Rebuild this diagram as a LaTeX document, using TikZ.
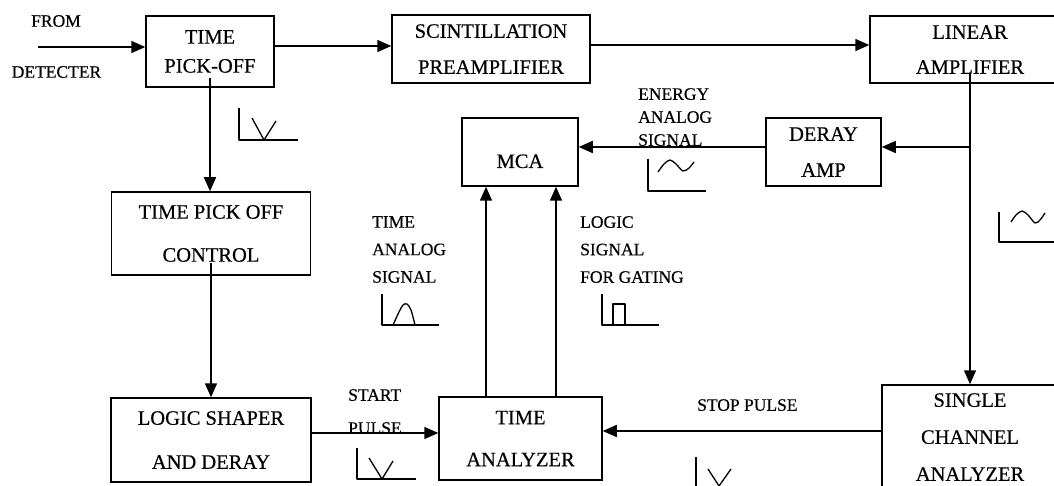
\documentclass[tikz,border=0pt]{standalone}
\usepackage{fontspec}
\setmainfont{Liberation Serif}[FakeBold=0.4]
\usetikzlibrary{arrows.meta,calc}
\tikzset{
  box/.style={draw, line width=1.5pt, inner sep=0pt, align=center, font=\fontsize{20.5}{24}\selectfont},
  lbl/.style={inner sep=0pt, align=left, font=\fontsize{17.5}{21}\selectfont},
  conn/.style={line width=1.5pt},
  arr/.style={conn, -{Triangle[length=14pt,width=12pt]}},
  sig/.style={line width=1.3pt, line join=round},
}
\begin{document}
\begin{tikzpicture}[x=1pt,y=-1pt]
\useasboundingbox (0,0) rectangle (1054,486);
\clip (0,0) rectangle (1054,486);
\fill[white] (0,0) rectangle (1054,486);
% boxes
\node[box, minimum width=128, minimum height=71] (tpo) at (210,51.5) {TIME\\[5pt]PICK-OFF};
\node[box, minimum width=198, minimum height=68] (scint) at (491,49) {SCINTILLATION\\[12pt]PREAMPLIFIER};
\node[box, minimum width=200, minimum height=67] (lin) at (970,49.5) {LINEAR\\[11pt]AMPLIFIER};
\node[box, minimum width=115, minimum height=68] (deray) at (823.5,152) {DERAY\\[12pt]AMP};
\node[box, minimum width=116, minimum height=68, text height=32pt, text depth=0pt] (mca) at (520,152) {MCA};
\node[box, minimum width=199, minimum height=83] (tpoc) at (211,233.5) {TIME PICK OFF\\[19pt]CONTROL};
\node[box, minimum width=200, minimum height=84] (lsd) at (211,440) {LOGIC SHAPER\\[20pt]AND DERAY};
\node[box, minimum width=163, minimum height=83] (ta) at (520.5,438.5) {TIME\\[18pt]ANALYZER};
\node[box, minimum width=176, minimum height=104] (sca) at (970,437) {SINGLE\\[13pt]CHANNEL\\[13pt]ANALYZER};
% labels
\node[lbl] (from) at (56,21) {FROM};
\node[lbl] (detr) at (56.5,72) {DETECTER};
\node[lbl, anchor=north west] (energy) at (638,88) {ENERGY\\[2pt]ANALOG\\[2pt]SIGNAL};
\node[lbl, anchor=north west] (tasig) at (372,216) {TIME\\[6.5pt]ANALOG\\[6.5pt]SIGNAL};
\node[lbl, anchor=north west] (lsig) at (580,216) {LOGIC\\[6.5pt]SIGNAL\\[6.5pt]FOR GATING};
\node[lbl, anchor=north west] (start) at (348,389) {START\\[12pt]PULSE};
\node[lbl, anchor=north west] (stop) at (697,399) {STOP PULSE};
% connectors
\coordinate (det) at (38,47);
\coordinate (br) at (970,147);
\draw[arr] (det) -- (det -| tpo.west);
\draw[arr] (tpo.east |- 0,46) -- (scint.west |- 0,46);
\draw[arr] (scint.east |- 0,45) -- (lin.west |- 0,45);
\draw[arr] ($(lin.south)+(0,-11)$) -- (sca.north);
\draw[arr] (br) -- (br -| deray.east);
\draw[arr] (deray.west |- 0,147) -- (mca.east |- 0,147);
\draw[arr] ($(tpo.south)+(0,-10)$) -- (tpo.south |- tpoc.north);
\draw[arr] ($(tpoc.south)+(0,-13)$) -- (tpoc.south |- lsd.north);
\draw[arr] (lsd.east |- 0,433) -- (ta.west |- 0,433);
\draw[arr] (sca.west |- 0,431) -- (ta.east |- 0,431);
\draw[arr] (ta.north -| 486,0) -- (mca.south -| 486,0);
\draw[arr] (ta.north -| 556,0) -- (mca.south -| 556,0);
% signal sketches
\draw[sig] (239,108) -- (239,140) -- (298,140);
\draw[sig] (252,118) -- (264,140) -- (276,121);
\draw[sig] (648,159) -- (648,191) -- (706,191);
\draw[sig] plot[smooth] coordinates {(658,172) (664,164) (670,160) (676,164) (683,171) (689,168) (694,162)};
\draw[sig] (999,212) -- (999,242) -- (1054,242);
\draw[sig] plot[smooth] coordinates {(1011,222) (1016,215) (1022,211) (1028,215) (1035,223) (1040,220) (1045,213)};
\draw[sig] (382,294) -- (382,325) -- (439,325);
\draw[sig] plot[smooth] coordinates {(393,325) (399,312) (403,305) (407,304) (411,310) (415,325)};
\draw[sig] (602,294) -- (602,325) -- (659,325);
\draw[sig] (613,325) -- (613,304) -- (625,304) -- (625,325);
\draw[sig] (357,448) -- (357,479) -- (416,479);
\draw[sig] (369,458) -- (382,479) -- (393,461);
\draw[sig] (696,457) -- (696,490);
\draw[sig] (708,469) -- (719,486) -- (731,469);
\end{tikzpicture}
\end{document}
